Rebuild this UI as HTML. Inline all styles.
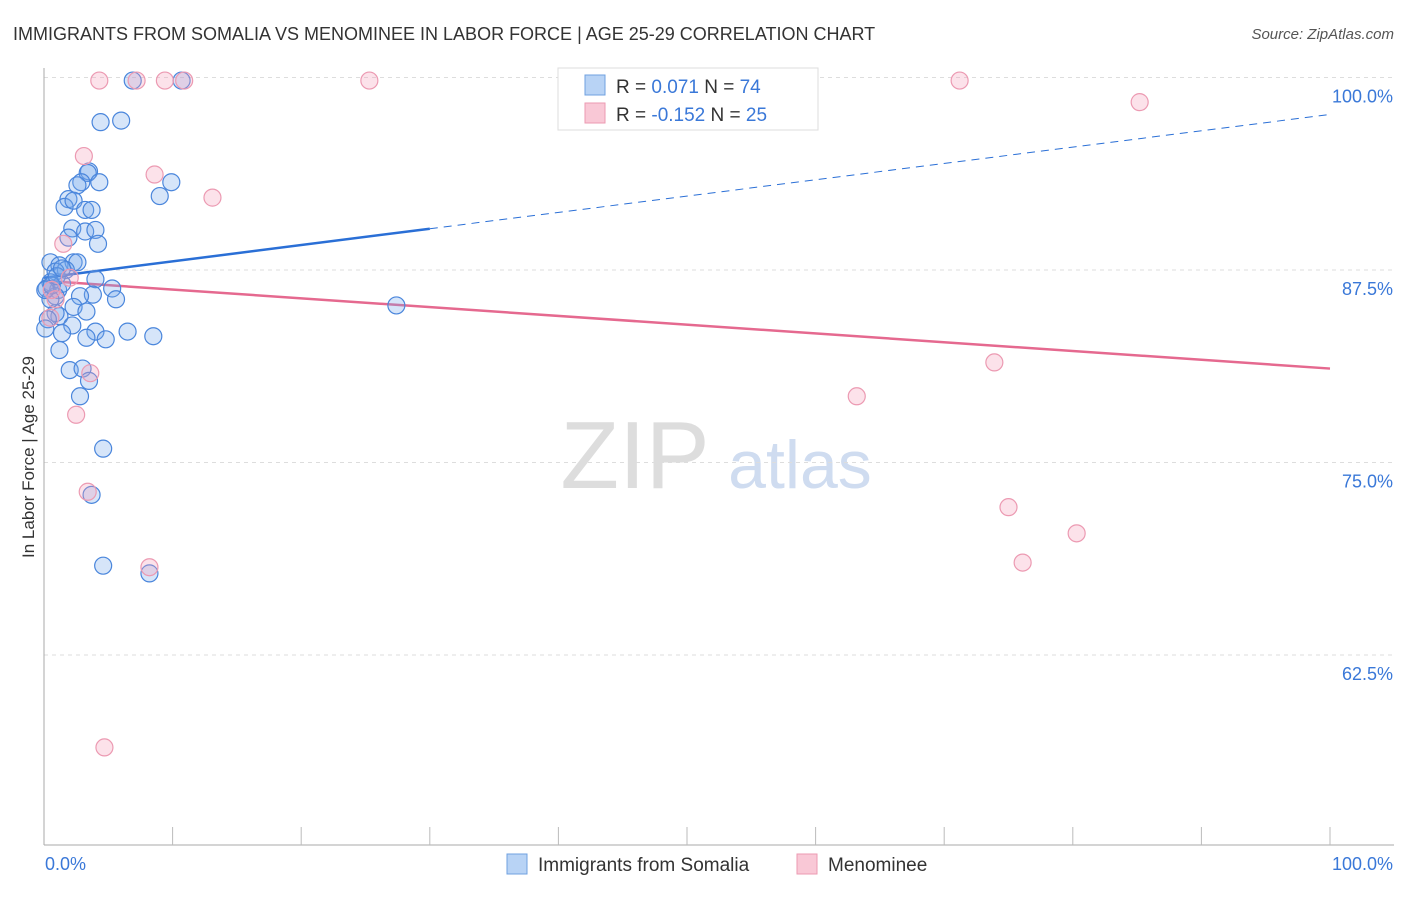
<!DOCTYPE html>
<html><head><meta charset="utf-8"><style>
body{margin:0;background:#fff;font-family:"Liberation Sans",sans-serif}
svg text{font-family:"Liberation Sans",sans-serif}
</style></head><body>
<svg id="chart" width="1406" height="892" xmlns="http://www.w3.org/2000/svg">
<text x="13" y="40" font-size="18" fill="#333">IMMIGRANTS FROM SOMALIA VS MENOMINEE IN LABOR FORCE | AGE 25-29 CORRELATION CHART</text>
<text x="1394" y="39" font-size="15" fill="#555" font-style="italic" text-anchor="end">Source: ZipAtlas.com</text>
<text transform="translate(34,457) rotate(-90)" font-size="17" fill="#333" text-anchor="middle">In Labor Force | Age 25-29</text>
<g><text x="635" y="488" font-size="96" fill="#ddd" font-family="Liberation Serif" text-anchor="middle">ZIP</text><text x="800" y="488" font-size="68" fill="#cfdcf0" text-anchor="middle">atlas</text></g>
<g id="grid"></g><g id="axes"></g><g id="lines"></g><g id="pts"></g>
<g>
<rect x="558" y="68" width="260" height="62" fill="#fff" stroke="#ddd"/>
<rect x="585" y="75" width="20" height="20" fill="#b8d3f5" stroke="#6fa0e0"/>
<rect x="585" y="103" width="20" height="20" fill="#f9c8d6" stroke="#ec9ab2"/>
<text x="616" y="93" font-size="19" fill="#333">R = <tspan fill="#3a78d8"> 0.071</tspan>   N = <tspan fill="#3a78d8">74</tspan></text>
<text x="616" y="121" font-size="19" fill="#333">R = <tspan fill="#3a78d8">-0.152</tspan>   N = <tspan fill="#3a78d8">25</tspan></text>
</g>
<g>
<rect x="507" y="854" width="20" height="20" fill="#b8d3f5" stroke="#6fa0e0"/>
<text x="538" y="871" font-size="19" fill="#333">Immigrants from Somalia</text>
<rect x="797" y="854" width="20" height="20" fill="#f9c8d6" stroke="#ec9ab2"/>
<text x="828" y="871" font-size="19" fill="#333">Menominee</text>
</g>
</svg>
<script>
const yTicks=[100,87.5,75,62.5];
const yTickLabels=["100.0%","87.5%","75.0%","62.5%"];
const xTickLabels=["0.0%","100.0%"];
const somaliaX=[6.9,10.7,4.4,6.0,3.5,3.4,2.9,4.3,2.6,9.9,9.0,1.9,1.6,2.3,3.2,3.7,2.2,3.2,4.0,1.9,4.2,0.5,1.2,2.3,2.6,1.7,0.9,4.0,0.5,0.2,1.1,1.4,5.3,3.8,2.8,5.6,0.9,2.3,3.3,1.2,0.9,2.2,4.0,6.5,8.5,3.3,4.8,1.4,1.2,2.0,3.0,3.5,2.8,4.6,3.7,4.6,8.2,27.4,0.3,0.5,0.1,0.6,1.0,1.4,0.1];
const somaliaY=[99.8,99.8,97.1,97.2,93.9,93.8,93.2,93.2,93.0,93.2,92.3,92.1,91.6,92.0,91.4,91.4,90.2,90.0,90.1,89.6,89.2,88.0,87.8,88.0,88.0,87.5,87.4,86.9,86.7,86.3,86.2,86.6,86.3,85.9,85.8,85.6,85.8,85.1,84.8,84.5,84.7,83.9,83.5,83.5,83.2,83.1,83.0,83.4,82.3,81.0,81.1,80.3,79.3,75.9,72.9,68.3,67.8,85.2,84.3,85.6,86.2,86.5,87.1,87.6,83.7];
const menomineeX=[4.3,7.2,9.4,10.9,25.3,71.2,85.2,3.1,8.6,13.1,1.5,2.0,0.9,0.5,3.6,2.5,3.4,8.2,4.7,73.9,63.2,75.0,80.3,76.1,0.6];
const menomineeY=[99.8,99.8,99.8,99.8,99.8,99.8,98.4,94.9,93.7,92.2,89.2,87.0,85.6,84.4,80.8,78.1,73.1,68.2,56.5,81.5,79.3,72.1,70.4,68.5,86.2];
const somaliaTrend=[87.0,97.6];
const menomineeTrend=[86.8,81.1];
const X=v=>44+v*12.86, Y=v=>77.5+(100-v)*15.4;
const NS="http://www.w3.org/2000/svg";
function mk(p,t,a){const e=document.createElementNS(NS,t);for(const k in a)e.setAttribute(k,a[k]);document.getElementById(p).appendChild(e);return e;}
yTicks.forEach((t,i)=>{
 const l=mk('grid','line',{x1:44,x2:1394,y1:Y(t),y2:Y(t),stroke:'#ddd','stroke-dasharray':'4,4'});
 
 
 const tx=mk('grid','text',{x:1393,y:Y(t)+25,'font-size':18,fill:'#3a78d8','text-anchor':'end'});
 tx.textContent=yTickLabels[i];
 
 
});
let a=mk('axes','line',{x1:44,x2:44,y1:68,y2:845,stroke:'#aaa'});


a=mk('axes','line',{x1:44,x2:1394,y1:845,y2:845,stroke:'#aaa'});


for(let i=1;i<=10;i++){const t=mk('axes','line',{x1:X(i*10),x2:X(i*10),y1:827,y2:845,stroke:'#bbb'});
 
 }
xTickLabels.forEach((s,i)=>{const t=mk('axes','text',{x:i?1393:45,y:870,'font-size':18,fill:'#3a78d8','text-anchor':i?'end':'start'});t.textContent=s;
 
 });
const sAt=x=>somaliaTrend[0]+(somaliaTrend[1]-somaliaTrend[0])*x/100;
let ln=mk('lines','line',{x1:X(0),y1:Y(sAt(0)),x2:X(30),y2:Y(sAt(30)),stroke:'#2a6fd6','stroke-width':2.5});


ln=mk('lines','line',{x1:X(30),y1:Y(sAt(30)),x2:X(100),y2:Y(sAt(100)),stroke:'#2a6fd6','stroke-width':1,'stroke-dasharray':'8,6'});


ln=mk('lines','line',{x1:X(0),y1:Y(menomineeTrend[0]),x2:X(100),y2:Y(menomineeTrend[1]),stroke:'#e5698f','stroke-width':2.5});


somaliaX.forEach((x,i)=>{const c=mk('pts','circle',{cx:X(x),cy:Y(somaliaY[i]),r:8.5,fill:'rgba(120,170,235,0.3)',stroke:'#4a86dc','stroke-width':1.2});
 
 });
menomineeX.forEach((x,i)=>{const c=mk('pts','circle',{cx:X(x),cy:Y(menomineeY[i]),r:8.5,fill:'rgba(245,160,185,0.3)',stroke:'#ec9ab2','stroke-width':1.2});
 
 });
</script>
</body></html>
